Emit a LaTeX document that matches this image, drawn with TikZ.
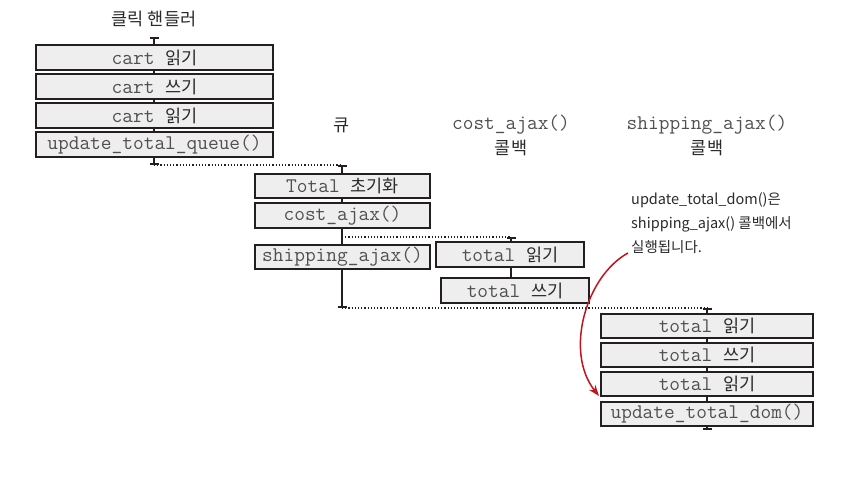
\documentclass[tikz,border=0pt]{standalone}
\usepackage{fontspec}
\newfontfamily\kr{Noto Sans CJK KR}
\usetikzlibrary{arrows.meta}
\definecolor{boxline}{HTML}{231F20}
\definecolor{boxfill}{HTML}{EEEEEE}
\definecolor{codetxt}{HTML}{505050}
\definecolor{kotxt}{HTML}{2A2A2A}
\definecolor{arrred}{HTML}{C0141E}
\newcommand{\ko}[1]{{\kr\fontsize{17.5}{19}\selectfont\color{kotxt}#1}}
\tikzset{
  stepbox/.style={draw=boxline, line width=2pt, fill=boxfill, inner sep=0pt,
    text=codetxt, font=\ttfamily\fontsize{20.8}{22}\selectfont},
  lbox/.style={stepbox, minimum width=237pt, minimum height=25pt},
  qbox/.style={stepbox, minimum width=175pt, minimum height=24.5pt},
  cbox/.style={stepbox, minimum width=148pt, minimum height=25pt},
  sbox/.style={stepbox, minimum width=212pt, minimum height=24.5pt},
  timeline/.style={draw=boxline, line width=1.6pt, {Bar[width=9pt,length=1.6pt]}-{Bar[width=9pt,length=1.6pt]}},
  timeline1/.style={draw=boxline, line width=1.6pt, {Bar[width=9pt,length=1.6pt]}-},
  handoff/.style={draw=boxline, line width=1.2pt, dotted},
  header/.style={font=\kr\fontsize{17.5}{19}\selectfont, text=kotxt},
  codehead/.style={font=\ttfamily\fontsize{20.8}{22}\selectfont, text=codetxt},
  note/.style={font=\kr\fontsize{14.5}{24}\selectfont, text=kotxt, align=left, inner sep=0pt},
  redarrow/.style={draw=arrred, line width=1.5pt, -{Stealth[length=11pt,width=8pt]}}
}
\begin{document}
\begin{tikzpicture}[x=1pt,y=-1pt]
\useasboundingbox (0,0) rectangle (854,483);
% timeline coordinates
\coordinate (l0) at (154,37);
\coordinate (l1) at (154,165);
\coordinate (q0) at (342,165);
\coordinate (q1) at (342,308);
\coordinate (qc) at (342,237);
\coordinate (c0) at (511,237);
\coordinate (c1) at (511,290);
\coordinate (s0) at (707,308);
\coordinate (s1) at (707,430);
% timelines
\draw[timeline] (l0) -- (l1);
\draw[timeline] (q0) -- (q1);
\draw[timeline1] (c0) -- (c1);
\draw[timeline] (s0) -- (s1);
% handoffs
\draw[handoff] (l1) -- (q0);
\draw[handoff] (qc) -- (c0);
\draw[handoff] (q1) -- (s0);
% headers
\node[header] (hclick) at (154,19) {클릭 핸들러};
\node[header] (hqueue) at (342,125) {큐};
\node[codehead] (hcost) at (511,125) {cost\_ajax()};
\node[header] (hcostcb) at (511,148) {콜백};
\node[codehead] (hship) at (707,125) {shipping\_ajax()};
\node[header] (hshipcb) at (707,148) {콜백};
% click handler
\node[lbox] (a1) at (154.5,57.5) {cart \ko{읽기}};
\node[lbox] (a2) at (154.5,86.5) {cart \ko{쓰기}};
\node[lbox] (a3) at (154.5,115.5) {cart \ko{읽기}};
\node[lbox] (a4) at (154.5,144.5) {update\_total\_queue()};
% queue
\node[qbox] (b1) at (342.5,186) {Total \ko{초기화}};
\node[qbox] (b2) at (342.5,215.5) {cost\_ajax()};
\node[qbox] (b3) at (342.5,257) {shipping\_ajax()};
% cost callback
\node[cbox] (c1box) at (510,254.5) {total \ko{읽기}};
\node[cbox] (c2box) at (515,290.5) {total \ko{쓰기}};
% shipping callback
\node[sbox] (d1) at (707,326) {total \ko{읽기}};
\node[sbox] (d2) at (707,355) {total \ko{쓰기}};
\node[sbox] (d3) at (707,384) {total \ko{읽기}};
\node[sbox] (d4) at (707,414) {update\_total\_dom()};
% note
\node[note, anchor=north west] (ann) at (631,192) {update\_total\_dom()은\\shipping\_ajax() 콜백에서\\실행됩니다.};
\coordinate (arrS) at (628,253);
\coordinate (arrE) at (599,396);
\draw[redarrow] (arrS) .. controls (586,276) and (564,352) .. (arrE);
\end{tikzpicture}
\end{document}
